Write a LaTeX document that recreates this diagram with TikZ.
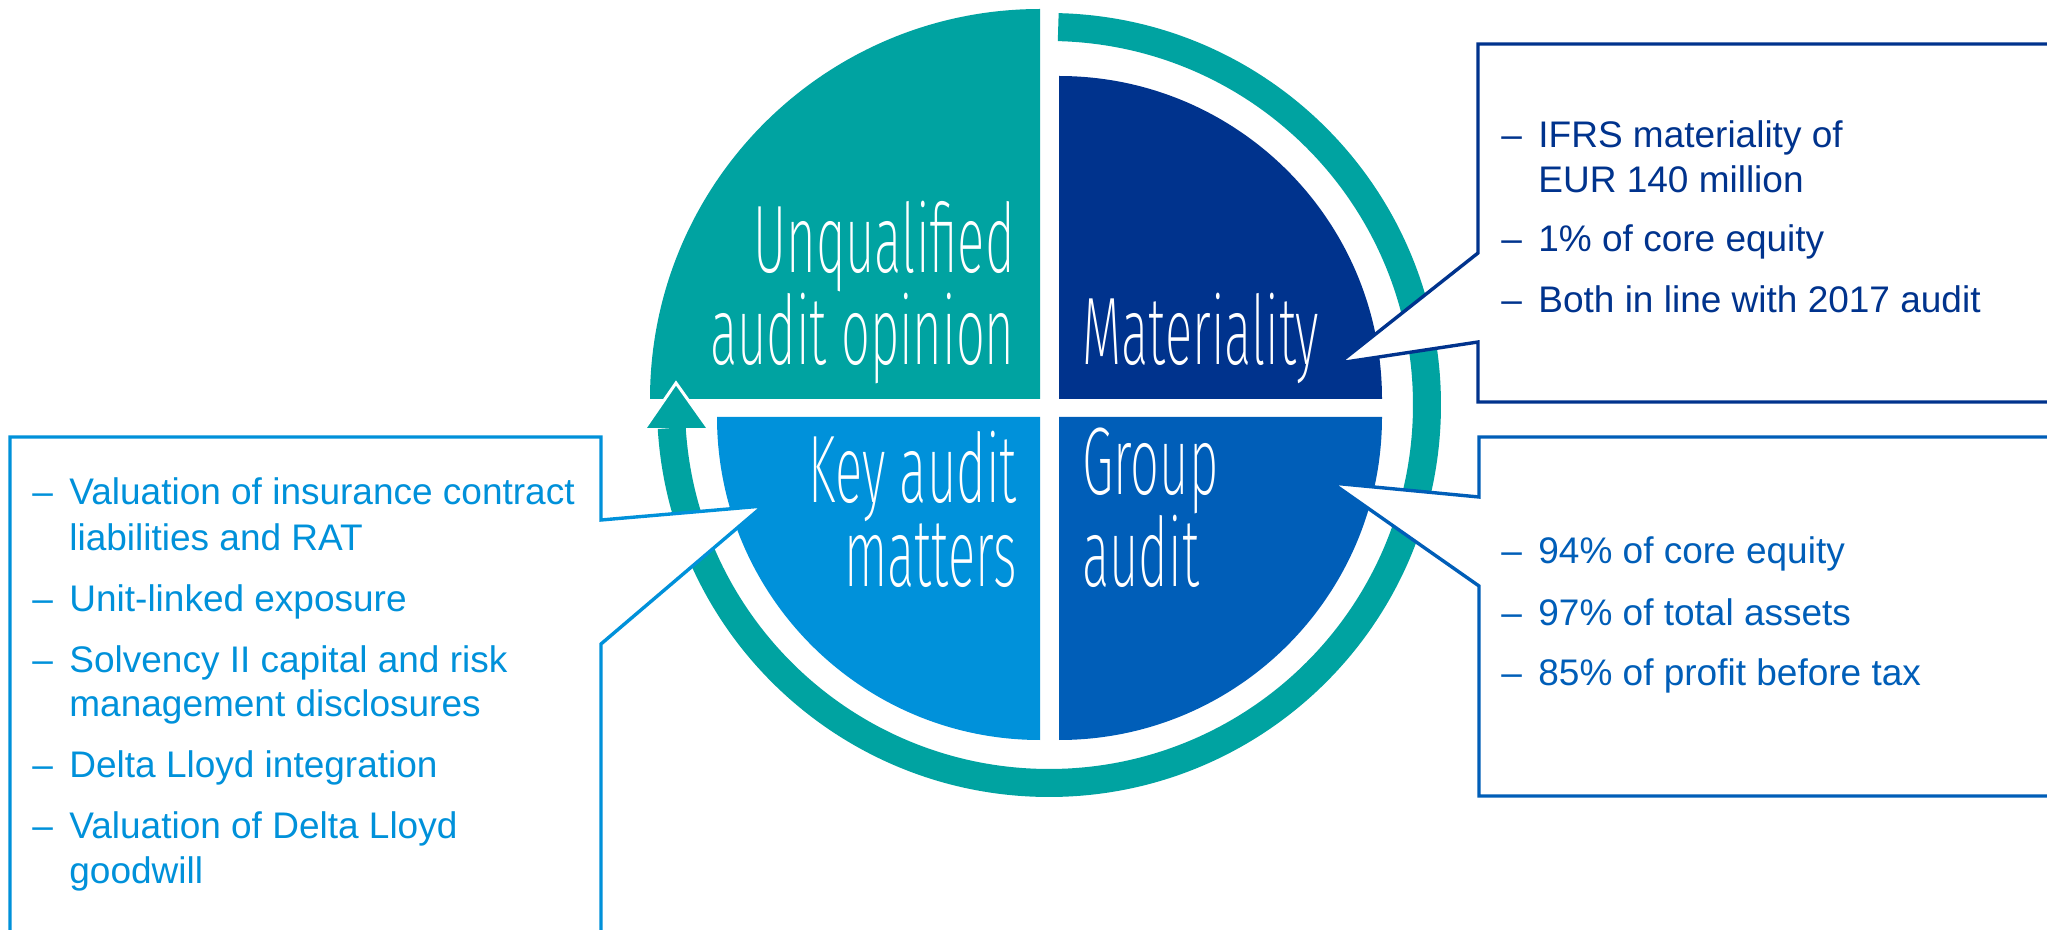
\documentclass[tikz,border=0pt]{standalone}
\usepackage{fontspec}
\setmainfont{Liberation Sans}
\newfontfamily\quadfont[FakeStretch=0.53]{Fira Sans ExtraLight}
\definecolor{kteal}{HTML}{00A3A1}
\definecolor{knavy}{HTML}{00338D}
\definecolor{kmid}{HTML}{005EB8}
\definecolor{klight}{HTML}{0091DA}
\begin{document}
\begin{tikzpicture}[x=0.5pt, y=0.5pt,
    qlabel/.style = {text=white, inner sep=0pt, font=\quadfont\fontsize{48}{40}\selectfont},
    callout/.style = {fill=white, line width=1.7pt, line join=miter},
    line/.style = {inner sep=0pt, anchor=base west, font=\fontsize{18.5}{22}\selectfont}]
    \useasboundingbox (0,0) rectangle (2047,-930);
    \fill[white] (0,0) rectangle (2047,-930);

    % ring with arrow
    \coordinate (ringc) at (1049,-405);
    \draw[kteal, line width=14pt] (ringc) ++(88.6:378) arc (88.6:-176.5:378);

    % quadrants
    \fill[kteal]  (1040,-399) -- ++(-390,0) arc (180:90:390) -- cycle;
    \fill[knavy]  (1059,-399) -- ++(0,323) arc (90:0:323) -- cycle;
    \fill[klight] (1040,-417) -- ++(-323,0) arc (180:270:323) -- cycle;
    \fill[kmid]   (1059,-417) -- ++(323,0) arc (0:-90:323) -- cycle;
    \fill[kteal] (645,-428) -- (708,-428) -- (676,-383) -- cycle;
    \draw[white, line width=1.5pt] (645,-428) -- (676,-383) -- (708,-428);

    \node[qlabel, align=right, anchor=base east] (unq) at (1015,-365) {Unqualified\\audit opinion};
    \node[qlabel, anchor=base west] (mat) at (1082,-365) {Materiality};
    \node[qlabel, align=right, anchor=base east] (key) at (1017,-587) {Key audit\\matters};
    \node[qlabel, align=left, anchor=base west] (grp) at (1082,-587) {Group\\audit};

    % callouts
    \coordinate (mattip) at (1339,-363);
    \coordinate (grptip) at (1332,-483);
    \coordinate (keytip) at (763,-506);
    \draw[callout, draw=knavy] (2100,-44) -- (1478,-44) -- (1478,-253) -- (mattip) -- (1478,-342) -- (1478,-402) -- (2100,-402);
    \draw[callout, draw=kmid] (2100,-437) -- (1479,-437) -- (1479,-497) -- (grptip) -- (1479,-586) -- (1479,-796) -- (2100,-796);
    \draw[callout, draw=klight] (10,-1000) -- (10,-437) -- (601,-437) -- (601,-520) -- (keytip) -- (601,-644) -- (601,-1000);

    \foreach \yy/\dsh/\txt in {148/1/IFRS materiality of, 193/0/EUR 140 million,
        252/1/1\% of core equity, 313/1/Both in line with 2017 audit} {
      \node[line, text=knavy] (mat\yy) at (1538,-\yy) {\txt};
      \ifnum\dsh=1 \node[line, text=knavy] (matd\yy) at (1501,-\yy) {\textendash}; \fi
    }
    \foreach \yy/\txt in {564/94\% of core equity, 625/97\% of total assets,
        685/85\% of profit before tax} {
      \node[line, text=kmid] (grp\yy) at (1538,-\yy) {\txt};
      \node[line, text=kmid] (grpd\yy) at (1501,-\yy) {\textendash};
    }
    \foreach \yy/\dsh/\txt in {505/1/Valuation of insurance contract, 551/0/liabilities and RAT,
        611/1/Unit-linked exposure, 672/1/Solvency II capital and risk,
        716/0/management disclosures, 777/1/Delta Lloyd integration,
        838/1/Valuation of Delta Lloyd, 883/0/goodwill} {
      \node[line, text=klight] (key\yy) at (69,-\yy) {\txt};
      \ifnum\dsh=1 \node[line, text=klight] (keyd\yy) at (32,-\yy) {\textendash}; \fi
    }
\end{tikzpicture}
\end{document}
